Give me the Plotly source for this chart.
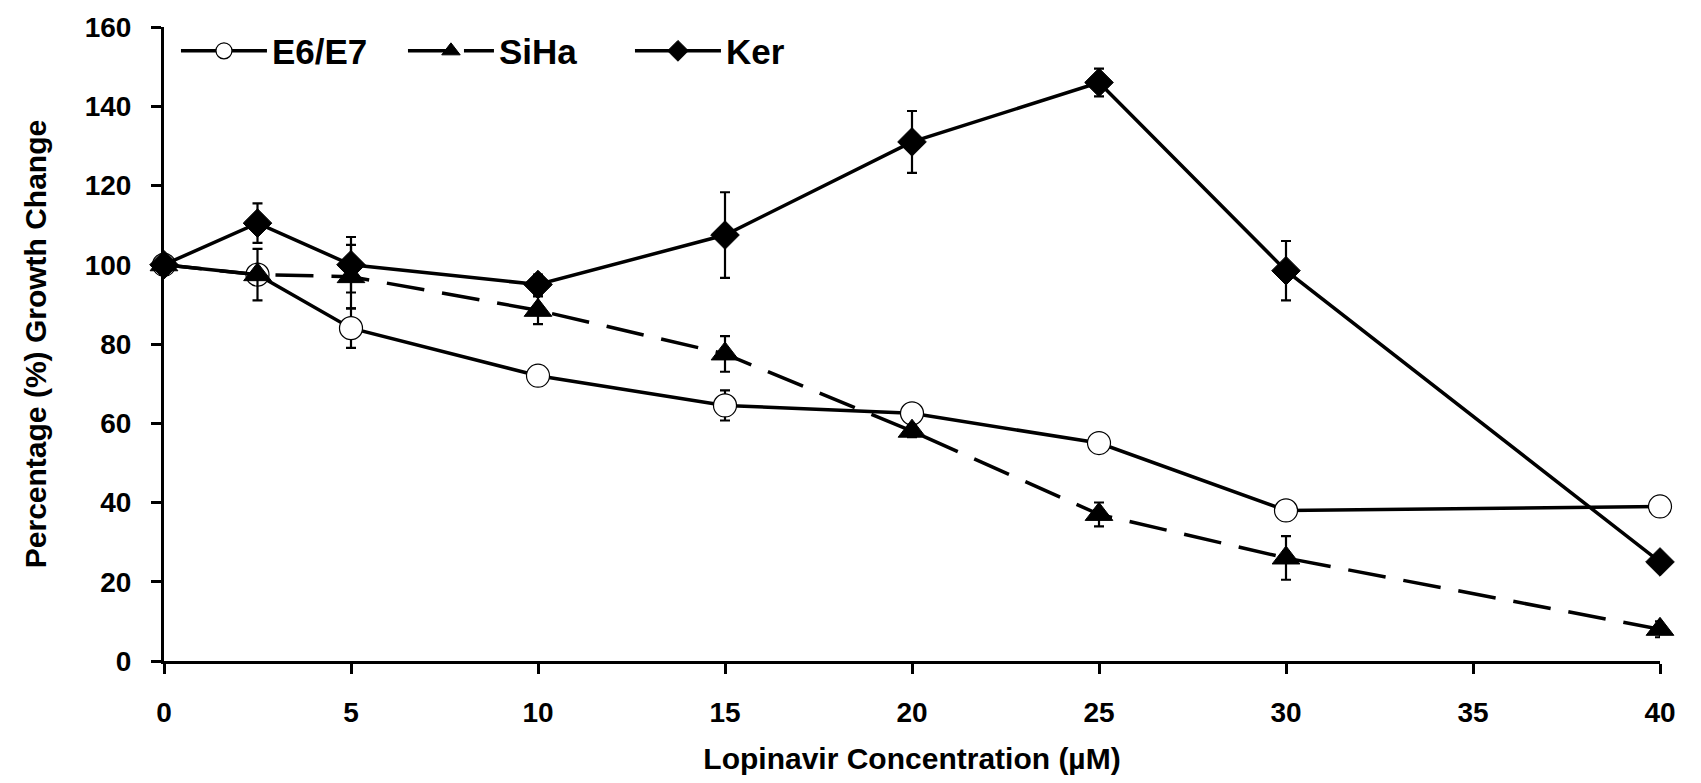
import plotly.graph_objects as go

# ---- data ----
conc = [0, 2.5, 5, 10, 15, 20, 25, 30, 40]
e6e7 = [100, 97.5, 84, 72, 64.5, 62.5, 55, 38, 39]
e6e7_err = [1, 1, 5, 2, 3.8, 1, 0.5, 0.5, 0.5]
siha = [100, 97.5, 97, 88.5, 77.5, 58, 37, 26, 8]
siha_err = [1, 6.5, 8, 3.5, 4.5, 1.5, 3, 5.5, 2]
ker = [100, 110.5, 100, 95, 107.5, 131, 146, 98.5, 25]
ker_err = [1, 5, 7, 2.5, 10.8, 7.8, 3.5, 7.5, 2]

x_ticks = [0, 5, 10, 15, 20, 25, 30, 35, 40]
y_ticks = [0, 20, 40, 60, 80, 100, 120, 140, 160]

FONT = "Liberation Sans, Arial, sans-serif"

fig = go.Figure()

def err(vals):
    return dict(type="data", array=vals, visible=True, color="black",
                thickness=2.2, width=5)

fig.add_trace(go.Scatter(
    x=conc, y=e6e7, name="E6/E7", mode="lines+markers",
    line=dict(color="black", width=3.5),
    marker=dict(symbol="circle", size=23, color="white",
                line=dict(color="black", width=1.2)),
    error_y=err(e6e7_err), cliponaxis=False))

fig.add_trace(go.Scatter(
    x=conc, y=siha, name="SiHa", mode="lines+markers",
    line=dict(color="black", width=3.5, dash="38px,18px"),
    marker=dict(symbol="triangle-up", size=24, color="black",
                line=dict(color="black", width=1)),
    error_y=err(siha_err), cliponaxis=False))

fig.add_trace(go.Scatter(
    x=conc, y=ker, name="Ker", mode="lines+markers",
    line=dict(color="black", width=3.5),
    marker=dict(symbol="diamond", size=22, color="black",
                line=dict(color="black", width=1)),
    error_y=err(ker_err), cliponaxis=False))

axis_common = dict(
    showline=True, linecolor="black", linewidth=3,
    ticks="outside", ticklen=10, tickwidth=3, tickcolor="black",
    showgrid=False, zeroline=False, mirror=False,
    tickfont=dict(family=FONT, size=28, color="black", weight="bold"),
)

fig.update_xaxes(
    range=[0, 40], tickvals=x_ticks, ticktext=[str(v) for v in x_ticks],
    title=dict(text="Lopinavir Concentration (µM)",
               font=dict(family=FONT, size=30, color="black", weight="bold"),
               standoff=22),
    ticklabelstandoff=14,
    **axis_common)

fig.update_yaxes(
    range=[0, 160], tickvals=y_ticks, ticktext=[str(v) for v in y_ticks],
    title=dict(text="Percentage (%) Growth Change",
               font=dict(family=FONT, size=30, color="black", weight="bold"),
               standoff=30),
    ticklabelstandoff=14,
    **axis_common)

fig.update_layout(
    width=1701, height=783,
    margin=dict(l=164, r=41, t=23, b=120),
    paper_bgcolor="white", plot_bgcolor="white",
    showlegend=True,
    legend=dict(orientation="h", x=0.008, y=0.962, xanchor="left",
                yanchor="middle", itemwidth=86,
                entrywidth=126, entrywidthmode="pixels",
                font=dict(family=FONT, size=35, color="black", weight="bold"),
                bgcolor="rgba(0,0,0,0)"),
)

fig.write_html("out.html")
